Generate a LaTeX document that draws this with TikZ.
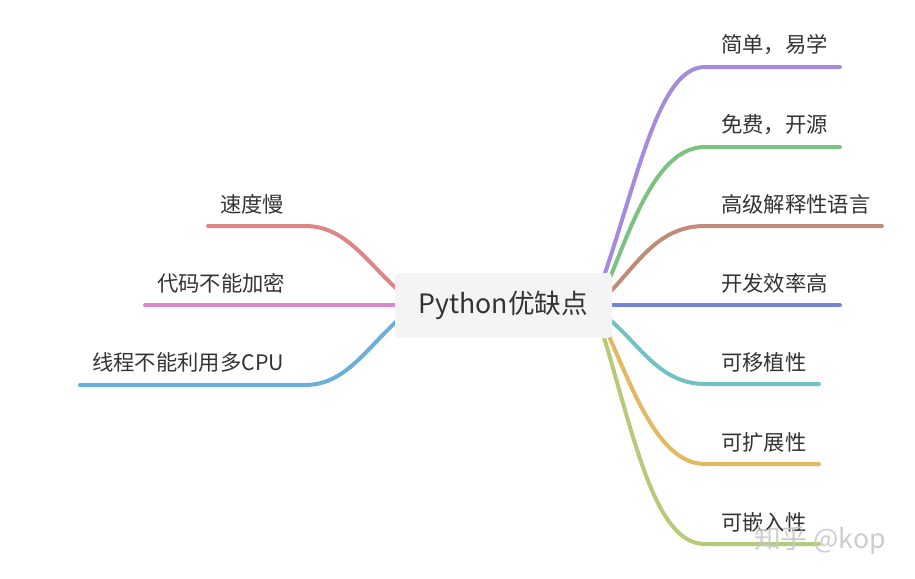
\documentclass[tikz,border=0pt]{standalone}
\usepackage{fontspec}
\setmainfont{Noto Sans CJK SC}
\definecolor{cPurple}{HTML}{A58BDC}
\definecolor{cGreen}{HTML}{7CC383}
\definecolor{cBrown}{HTML}{C08B78}
\definecolor{cBlue}{HTML}{7584D1}
\definecolor{cTeal}{HTML}{70C2C5}
\definecolor{cGold}{HTML}{E2B860}
\definecolor{cOlive}{HTML}{B5CB7A}
\definecolor{cRed}{HTML}{E08585}
\definecolor{cPink}{HTML}{DA87CD}
\definecolor{cLBlue}{HTML}{6AAEDD}
\definecolor{cText}{HTML}{333333}
\definecolor{cBox}{HTML}{F4F4F5}
\tikzset{
  branch/.style={line width=3pt, line cap=round},
  lbl/.style={anchor=west, inner sep=0pt, text=cText, font=\fontsize{16}{18}\selectfont},
  centerbox/.style={fill=cBox, rounded corners=3pt, minimum width=162.75pt, minimum height=48.75pt, text=cText, font=\fontsize{20}{24}\selectfont, inner sep=0pt},
}
\begin{document}
\begin{tikzpicture}[x=0.75pt,y=-0.75pt]
\useasboundingbox (0,0) rectangle (915,579);
% branch curves (behind the box)
\coordinate (r1s) at (604,276);
\coordinate (r2s) at (610,278);
\coordinate (r3s) at (612,290);
\coordinate (r4s) at (605,305);
\coordinate (r5s) at (610,320);
\coordinate (r6s) at (608,334);
\coordinate (r7s) at (603,334);
\coordinate (r1e) at (840,67);
\coordinate (r2e) at (840,147);
\coordinate (r3e) at (882,226);
\coordinate (r4e) at (840,305);
\coordinate (r5e) at (819,384);
\coordinate (r6e) at (819,464);
\coordinate (r7e) at (819,544);
\coordinate (l1s) at (400,292);
\coordinate (l2s) at (400,305);
\coordinate (l3s) at (400,318);
\coordinate (l1e) at (208,226);
\coordinate (l2e) at (145,305);
\coordinate (l3e) at (80,385);

\draw[branch, cPurple] (r1s) .. controls (640,170) and (660,67) .. (705,67) -- (r1e);
\draw[branch, cGreen] (r2s) .. controls (635,215) and (660,147) .. (705,147) -- (r2e);
\draw[branch, cBrown] (r3s) .. controls (640,260) and (660,226) .. (705,226) -- (r3e);
\draw[branch, cBlue] (r4s) -- (r4e);
\draw[branch, cTeal] (r5s) .. controls (640,345) and (660,384) .. (705,384) -- (r5e);
\draw[branch, cGold] (r6s) .. controls (635,395) and (660,464) .. (705,464) -- (r6e);
\draw[branch, cOlive] (r7s) .. controls (635,440) and (655,544) .. (705,544) -- (r7e);

\draw[branch, cRed] (l1s) .. controls (365,260) and (345,226) .. (305,226) -- (l1e);
\draw[branch, cPink] (l2s) -- (l2e);
\draw[branch, cLBlue] (l3s) .. controls (365,350) and (345,385) .. (305,385) -- (l3e);

% center
\node[centerbox] (c) at (503.5,305.5) {Python优缺点};

% right labels
\node[lbl] (t1) at (721,45) {简单，易学};
\node[lbl] (t2) at (721,125) {免费，开源};
\node[lbl] (t3) at (721,204) {高级解释性语言};
\node[lbl] (t4) at (721,283) {开发效率高};
\node[lbl] (t5) at (721,362) {可移植性};
\node[lbl] (t6) at (721,442) {可扩展性};
\node[lbl] (t7) at (721,522) {可嵌入性};

% left labels
\node[lbl] (s1) at (220,204) {速度慢};
\node[lbl] (s2) at (157,283) {代码不能加密};
\node[lbl] (s3) at (92,362) {线程不能利用多CPU};

% watermark
\node[anchor=west, inner sep=0pt, text=black!22, opacity=0.9, font=\fontsize{20}{24}\selectfont] (wm) at (754,540) {知乎 @kop};
\end{tikzpicture}
\end{document}
